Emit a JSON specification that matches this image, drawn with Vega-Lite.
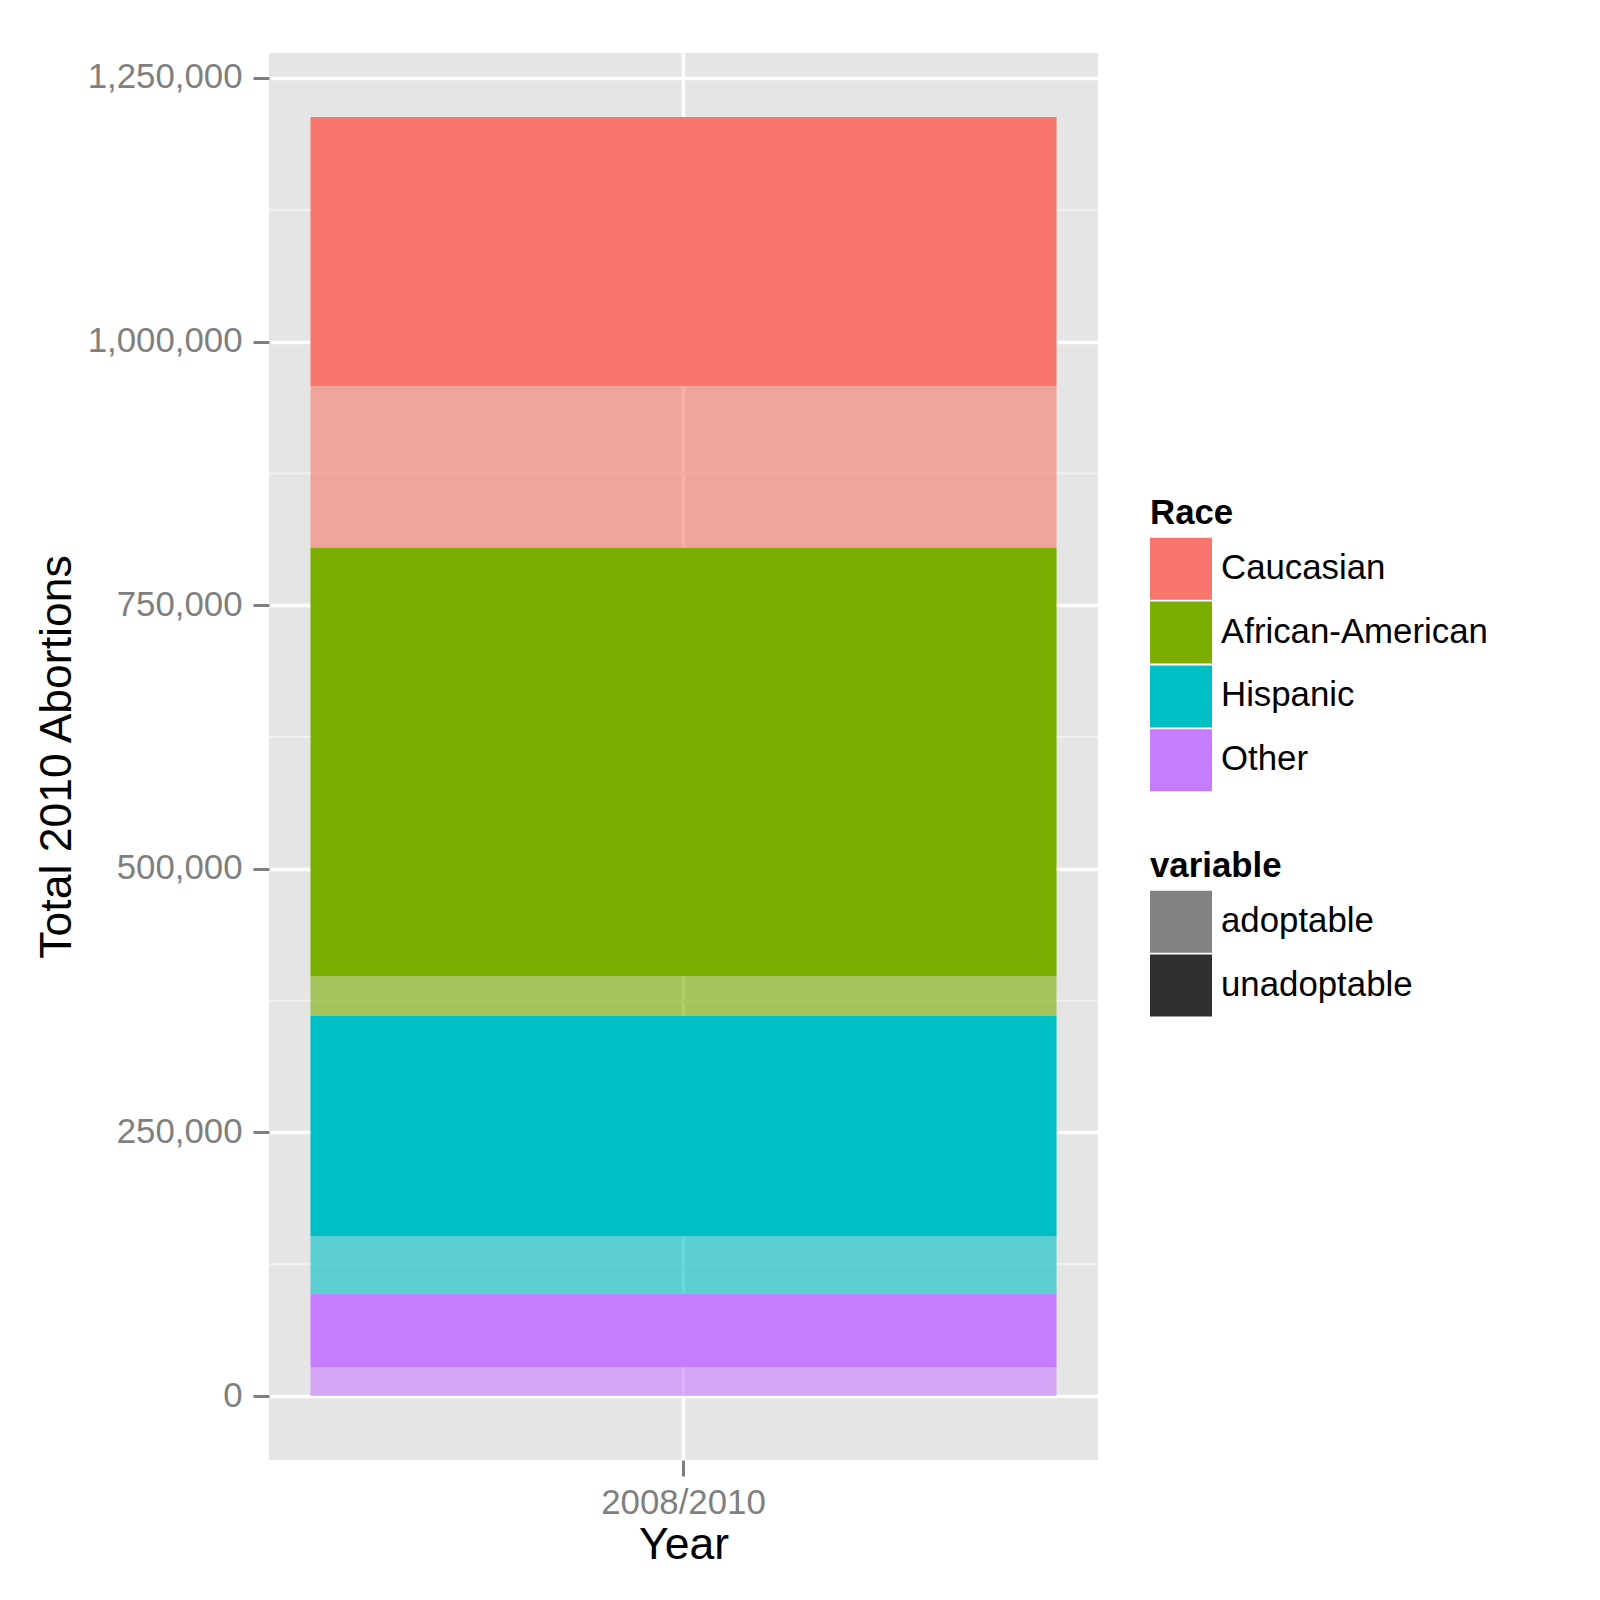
{
  "$schema": "https://vega.github.io/schema/vega-lite/v6.json",
  "width": 829,
  "height": 1407,
  "autosize": {"type": "none"},
  "padding": {"left": 269, "top": 53, "right": 502, "bottom": 140},
  "background": "white",
  "config": {
    "font": "Liberation Sans",
    "view": {"fill": "#E5E5E5", "stroke": null},
    "axis": {
      "domain": false,
      "labelFont": "Liberation Sans",
      "labelFontSize": 34.8,
      "labelColor": "#7F7F7F",
      "tickColor": "#7F7F7F",
      "tickWidth": 3,
      "tickSize": 16,
      "gridColor": "#FFFFFF",
      "gridWidth": 3.5,
      "titleFont": "Liberation Sans",
      "titleFontSize": 44.5,
      "titleFontWeight": "normal",
      "titleColor": "#000000"
    },
    "legend": {
      "labelFont": "Liberation Sans",
      "labelFontSize": 34.8,
      "labelColor": "#000000",
      "labelLimit": 500,
      "titleFont": "Liberation Sans",
      "titleFontSize": 34.8,
      "titleFontWeight": "bold",
      "titleColor": "#000000",
      "padding": 0,
      "titlePadding": 6,
      "rowPadding": 1.8,
      "labelOffset": 9,
      "symbolStrokeWidth": 0,
      "symbolType": "square",
      "symbolSize": 3844
    }
  },
  "datasets": {
    "abortions": [
      {"Year": "2008/2010", "Race": "Caucasian", "variable": "adoptable", "n": 153200},
      {"Year": "2008/2010", "Race": "Caucasian", "variable": "unadoptable", "n": 255300},
      {"Year": "2008/2010", "Race": "African-American", "variable": "adoptable", "n": 37900},
      {"Year": "2008/2010", "Race": "African-American", "variable": "unadoptable", "n": 406100},
      {"Year": "2008/2010", "Race": "Hispanic", "variable": "adoptable", "n": 54700},
      {"Year": "2008/2010", "Race": "Hispanic", "variable": "unadoptable", "n": 209100},
      {"Year": "2008/2010", "Race": "Other", "variable": "adoptable", "n": 27500},
      {"Year": "2008/2010", "Race": "Other", "variable": "unadoptable", "n": 69200}
    ],
    "minor_grid": [
      {"n": 125000},
      {"n": 375000},
      {"n": 625000},
      {"n": 875000},
      {"n": 1125000}
    ]
  },
  "layer": [
    {
      "data": {"name": "minor_grid"},
      "mark": {"type": "rule", "color": "#F2F2F2", "strokeWidth": 1.8},
      "encoding": {
        "y": {
          "field": "n",
          "type": "quantitative",
          "title": "Total 2010 Abortions",
          "scale": {"domain": [-60650, 1273650], "nice": false, "zero": false}
        }
      }
    },
    {
      "data": {"name": "abortions"},
      "transform": [
        {"calculate": "indexof(['Other', 'Hispanic', 'African-American', 'Caucasian'], datum.Race) * 2 + (datum.variable === 'adoptable' ? 0 : 1)", "as": "stack_order"}
      ],
      "mark": {"type": "bar"},
      "encoding": {
        "x": {
          "field": "Year",
          "type": "nominal",
          "scale": {"paddingInner": 0, "paddingOuter": 0.0556},
          "axis": {
            "title": "Year",
            "labelAngle": 0,
            "bandPosition": 0.5,
            "grid": true,
            "labelPadding": 10,
            "titlePadding": 4
          }
        },
        "y": {
          "field": "n",
          "type": "quantitative",
          "stack": "zero",
          "title": "Total 2010 Abortions",
          "scale": {"domain": [-60650, 1273650], "nice": false, "zero": false},
          "axis": {
            "values": [0, 250000, 500000, 750000, 1000000, 1250000],
            "format": ",d",
            "grid": true,
            "labelPadding": 11,
            "titlePadding": 8
          }
        },
        "color": {
          "field": "Race",
          "type": "nominal",
          "scale": {
            "domain": ["Caucasian", "African-American", "Hispanic", "Other"],
            "range": ["#F8766D", "#7CAE00", "#00BFC4", "#C77CFF"]
          },
          "legend": {"title": "Race", "orient": "none", "legendX": 881, "legendY": 444}
        },
        "opacity": {
          "field": "variable",
          "type": "ordinal",
          "scale": {"domain": ["adoptable", "unadoptable"], "range": [0.6, 1]},
          "legend": {
            "title": "variable",
            "orient": "none",
            "legendX": 881,
            "legendY": 797,
            "symbolFillColor": "#303030"
          }
        },
        "order": {"field": "stack_order", "type": "quantitative"}
      }
    }
  ]
}
